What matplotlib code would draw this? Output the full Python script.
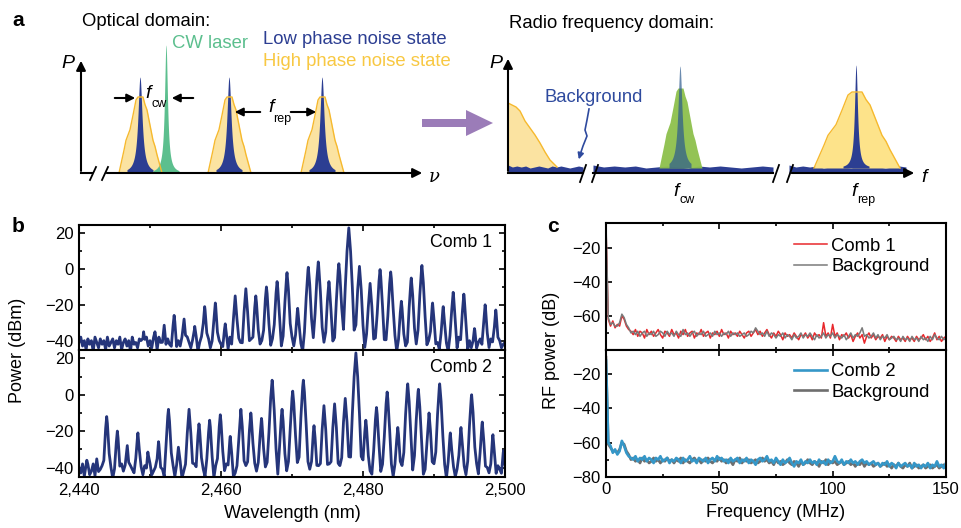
import numpy as np
import matplotlib
matplotlib.use('Agg')
import matplotlib.pyplot as plt
from matplotlib.ticker import FuncFormatter, FixedLocator

plt.rcParams['font.family'] = ['Liberation Sans', 'DejaVu Sans']

# ---------- panel b: comb lines (wavelength nm, peak power dBm) ----------
COMB1_NM = [2449.1, 2450.7, 2452.0, 2453.4, 2454.8, 2456.3, 2457.7, 2459.2, 2460.6,
            2462.0, 2463.5, 2464.9, 2466.4, 2467.9, 2469.3, 2470.8, 2472.3, 2473.7,
            2475.2, 2476.6, 2478.0, 2479.5, 2481.0, 2482.4, 2483.9, 2485.4, 2486.8,
            2488.3, 2489.8, 2491.3, 2492.7, 2494.2, 2495.7, 2497.2, 2498.7]
COMB1_DBM = [-36, -36, -32, -26, -28, -33, -21, -19, -31,
             -15, -11, -15, -10, -7, -2, -22, 1, 4,
             -7, 3, 23, 1.5, -8, -0.3, -1.6, -18, -5,
             2, -19, -21, -13, -14, -35, -20, -23]

COMB2_NM = [2441.1, 2442.5, 2443.9, 2445.4, 2446.8, 2448.3, 2449.7, 2451.2, 2452.6,
            2454.0, 2455.5, 2456.9, 2458.4, 2459.9, 2461.3, 2462.8, 2464.2, 2465.7,
            2467.2, 2468.6, 2470.1, 2471.6, 2473.1, 2474.5, 2476.0, 2477.5, 2479.0,
            2480.4, 2481.9, 2483.4, 2484.9, 2486.3, 2487.8, 2489.3, 2490.8, 2492.3,
            2493.8, 2495.3, 2496.8, 2498.3, 2499.8]
COMB2_DBM = [-39, -37, -12, -20, -28, -21, -32, -26, -8,
             -29, -8, -16, -14, -11, -23, -8, -10, -13,
             8, -8, 2, 8, -17, -6, -5, -2, 23,
             -14, -7, 1.5, -18, 6, 3, -10, 6, -21,
             -18, 0, -15, -22, -31]

# OSA noise floor, every 0.25 nm from 2440 to 2500
OSA_NM = np.arange(2440.0, 2500.01, 0.25)
COMB1_FLOOR = [
    -41, -38, -43, -40, -45, -39, -42, -40, -46, -38, -41, -44, -39, -42, -40, -45, -38, -43, -41, -39,
    -44, -40, -42, -38, -45, -41, -39, -43, -40, -46, -38, -42, -41, -44, -39, -40, -45, -42, -38, -43,
    -40, -44, -39, -42, -46, -38, -41, -43, -40, -45, -39, -42, -44, -38, -41, -46, -40, -43, -39, -42,
    -45, -38, -41, -44, -40, -43, -39, -46, -41, -38, -42, -45, -40, -39, -44, -41, -43, -38, -46, -40,
    -42, -44, -39, -41, -45, -38, -43, -40, -42, -46, -39, -41, -44, -40, -38, -45, -42, -39, -43, -41,
    -46, -39, -42, -40, -44, -38, -41, -45, -43, -39, -40, -46, -42, -38, -44, -41, -39, -43, -45, -40,
    -38, -43, -41, -45, -39, -42, -46, -40, -44, -38, -41, -43, -39, -45, -42, -40, -46, -38, -41, -44,
    -40, -45, -39, -42, -44, -41, -38, -46, -40, -43, -39, -42, -45, -41, -38, -44, -40, -43, -46, -39,
    -41, -44, -38, -42, -45, -40, -43, -39, -46, -41, -38, -44, -42, -40, -45, -39, -43, -41, -38, -46,
    -42, -39, -44, -40, -43, -45, -38, -41, -46, -40, -42, -39, -44, -41, -45, -38, -43, -40, -42, -46,
    -39, -43, -41, -45, -40, -38, -44, -42, -46, -39, -41, -43, -40, -45, -38, -42, -44, -41, -39, -46,
    -40, -44, -42, -38, -45, -41, -39, -43, -46, -40, -42, -44, -39, -41, -45, -38, -43, -40, -44, -42,
    -41]
COMB2_FLOOR = [
    -40, -43, -38, -45, -41, -39, -44, -42, -38, -46, -40, -43, -41, -39, -45, -42, -38, -44, -40, -46,
    -43, -39, -41, -45, -38, -42, -40, -44, -46, -39, -41, -43, -38, -45, -42, -40, -44, -39, -46, -41,
    -38, -44, -42, -40, -45, -39, -43, -41, -46, -38, -42, -44, -40, -39, -45, -41, -43, -38, -46, -42,
    -41, -45, -39, -43, -40, -38, -46, -42, -44, -39, -41, -45, -38, -43, -40, -42, -46, -39, -44, -41,
    -44, -40, -42, -38, -45, -41, -39, -46, -43, -40, -38, -44, -42, -45, -39, -41, -43, -40, -46, -38,
    -42, -39, -45, -41, -43, -40, -38, -44, -46, -42, -39, -41, -45, -40, -43, -38, -44, -42, -39, -46,
    -40, -44, -41, -38, -45, -43, -39, -42, -46, -40, -41, -44, -38, -45, -42, -39, -43, -41, -46, -40,
    -45, -38, -42, -44, -40, -41, -46, -39, -43, -38, -44, -42, -40, -45, -41, -39, -46, -43, -38, -42,
    -39, -43, -46, -40, -42, -44, -38, -41, -45, -40, -43, -39, -46, -42, -38, -44, -41, -45, -40, -43,
    -44, -41, -39, -45, -38, -42, -40, -46, -43, -39, -41, -44, -40, -38, -45, -42, -43, -39, -46, -41,
    -38, -42, -45, -40, -43, -41, -39, -46, -44, -38, -42, -40, -45, -41, -39, -43, -46, -40, -44, -42,
    -41, -46, -40, -43, -38, -44, -42, -39, -45, -41, -40, -43, -46, -38, -42, -44, -39, -41, -45, -40,
    -42]

# ---------- panel c: RF spectra, one value per MHz from 0 to 150 ----------
RF_MHZ = np.arange(0, 151)
RF_COMB1 = [
    -8, -62, -66, -63, -67, -65, -66, -60, -62, -66, -68,
    -69, -71, -68, -72, -69, -70, -73, -68, -71, -69, -72, -70, -68, -71, -73, -69, -70, -72, -68, -71,
    -70, -73, -69, -71, -68, -72, -70, -69, -73, -70, -71, -68, -72, -70, -69, -73, -70, -71, -69, -72,
    -68, -71, -70, -73, -69, -71, -70, -72, -69, -71, -73, -70, -69, -72, -70, -68, -71, -69, -72, -70,
    -68, -71, -73, -70, -72, -69, -71, -74, -70, -72, -71, -73, -70, -72, -74, -71, -72, -70, -73, -71,
    -74, -70, -72, -71, -73, -64, -72, -70, -73, -65, -72, -70, -74, -71, -72, -70, -73, -71, -75, -72,
    -70, -73, -71, -76, -72, -70, -73, -71, -74, -72, -73, -71, -75, -72, -74, -72, -73, -75, -72, -74,
    -73, -75, -72, -74, -73, -75, -72, -74, -73, -71, -74, -72, -75, -73, -70, -74, -72, -75, -73, -72]
RF_BG1 = [
    -6, -61, -65, -64, -66, -66, -64, -59, -61, -65, -67,
    -70, -69, -71, -69, -72, -70, -69, -72, -70, -71, -69, -72, -71, -69, -70, -72, -69, -71, -70, -72,
    -69, -71, -72, -68, -71, -70, -72, -70, -69, -72, -70, -71, -69, -72, -71, -70, -72, -69, -71, -70,
    -72, -70, -71, -69, -72, -70, -71, -70, -72, -71, -70, -72, -71, -69, -70, -67, -69, -71, -70, -72,
    -69, -72, -70, -71, -73, -71, -72, -70, -73, -71, -72, -74, -71, -73, -72, -70, -73, -71, -72, -70,
    -72, -74, -71, -73, -72, -70, -73, -71, -72, -70, -73, -71, -72, -73, -71, -74, -72, -70, -73, -71,
    -72, -70, -67, -72, -71, -73, -72, -70, -73, -71, -74, -72, -73, -71, -74, -73, -72, -74, -73, -75,
    -72, -74, -73, -75, -72, -74, -73, -75, -72, -74, -73, -75, -72, -74, -71, -73, -74, -72, -74, -73]
RF_COMB2 = [
    -12, -60, -62, -66, -64, -67, -65, -59, -62, -66, -68,
    -69, -70, -68, -71, -69, -70, -68, -71, -69, -70, -72, -69, -70, -68, -71, -70, -69, -72, -70, -71,
    -69, -70, -72, -69, -71, -70, -68, -71, -70, -72, -69, -70, -71, -69, -72, -70, -69, -71, -68, -70,
    -69, -71, -70, -72, -69, -71, -70, -69, -72, -70, -71, -69, -72, -70, -71, -73, -70, -69, -71, -70,
    -68, -71, -70, -72, -69, -71, -73, -70, -72, -71, -69, -72, -74, -71, -72, -70, -73, -71, -72, -70,
    -72, -71, -73, -70, -72, -71, -73, -70, -72, -71, -68, -71, -72, -70, -73, -71, -72, -70, -72, -71,
    -73, -71, -70, -72, -71, -73, -72, -71, -73, -72, -74, -72, -73, -71, -74, -72, -73, -75, -72, -74,
    -73, -72, -74, -73, -75, -72, -74, -73, -75, -73, -74, -72, -75, -73, -74, -71, -74, -73, -75, -72]
RF_BG2 = [
    -10, -61, -63, -65, -65, -66, -64, -60, -61, -65, -67,
    -70, -69, -71, -70, -72, -69, -71, -70, -72, -71, -69, -71, -70, -72, -70, -71, -69, -71, -70, -72,
    -70, -71, -69, -72, -70, -71, -72, -70, -69, -71, -70, -72, -70, -71, -69, -71, -72, -70, -71, -69,
    -71, -70, -72, -70, -71, -73, -70, -71, -69, -72, -70, -71, -70, -72, -71, -70, -72, -71, -69, -71,
    -70, -72, -71, -73, -70, -72, -71, -73, -72, -70, -72, -73, -71, -72, -74, -71, -73, -72, -70, -72,
    -73, -71, -72, -74, -71, -72, -70, -73, -71, -72, -71, -73, -72, -71, -73, -72, -71, -73, -72, -74,
    -72, -73, -71, -74, -72, -73, -72, -74, -73, -72, -74, -73, -72, -74, -73, -75, -73, -74, -72, -74,
    -75, -73, -74, -72, -75, -74, -73, -75, -74, -73, -75, -74, -73, -75, -74, -73, -75, -74, -73, -74]

# ---------- panel a: schematic (pixel-like units) ----------
OPT_COMB_POS = [140, 229, 322]
OPT_COMB_H = 96
OPT_NOISE_H = 76
OPT_CW_POS = 166
OPT_CW_H = 128
NOISE_DX = [-21, -18, -16, -14, -12, -10, -7, -4, -2, 3, 5, 7, 10, 13, 15, 17, 22]
NOISE_FRAC = [0, 0.18, 0.3, 0.43, 0.5, 0.57, 0.76, 0.96, 1.0, 1.0, 0.9, 0.83, 0.63, 0.43, 0.35, 0.24, 0]
RF_CW_POS = 680
RF_REP_POS = 856
RF_LOW_X = [508, 512, 516, 520, 525, 530, 535, 540, 545, 550, 557]
RF_LOW_H = [70, 68, 66, 62, 52, 45, 38, 30, 21, 13, 6]
RF_FLOOR_H = [8, 6, 7, 6, 7, 5, 6, 7, 6, 5, 7, 6, 7, 6, 5, 6, 7, 6]

NAVY = '#25357a'
BLUE = '#2c3e92'
YEL_FILL = '#fbe3a1'
YEL_EDGE = '#f6b92e'
GREEN = '#5cbf8e'
FS_A = 13.3     # schematic text
FS_TICK = 12
FS_LAB = 13


def osa_trace(floor, peak_nm, peak_dbm):
    # OSA floor plus the comb lines, summed in linear power
    nm = np.sort(np.concatenate([OSA_NM, peak_nm]))
    fl = np.array(floor)[np.clip(np.searchsorted(OSA_NM, nm), 0, len(OSA_NM) - 1)]
    lin = 10 ** (fl / 10)
    for x0, h in zip(peak_nm, peak_dbm):
        lin += 10 ** ((h - 85 * np.abs(nm - x0) ** 1.35) / 10)
    return nm, 10 * np.log10(lin)


fig = plt.figure(figsize=(9.61, 5.28), dpi=100)

# ---------------- panel a ----------------
ax_a = fig.add_axes([0, 0, 1, 1])
ax_a.set_xlim(0, 961)
ax_a.set_ylim(528, 0)
ax_a.axis('off')

base = 173
lor = np.linspace(-13, 13, 200)
for p in OPT_COMB_POS:
    xs = p + np.array(NOISE_DX)
    ys = base - OPT_NOISE_H * np.array(NOISE_FRAC)
    ax_a.fill_between(xs, base, ys, color=YEL_FILL, lw=0)
    ax_a.plot(xs, ys, color=YEL_EDGE, lw=1)
    ax_a.fill_between(p + lor, base, base - OPT_COMB_H / (1 + (lor / 2.5) ** 2), color=BLUE, lw=0)
ax_a.fill_between(OPT_CW_POS + lor, base, base - OPT_CW_H / (1 + (lor / 1.8) ** 2), color=GREEN, lw=0)

# optical axes
ax_a.plot([81, 92], [base, base], color='k', lw=1.5)
ax_a.annotate('', xy=(425, base), xytext=(104, base),
              arrowprops=dict(arrowstyle='-|>', color='k', lw=1.5, mutation_scale=14))
ax_a.annotate('', xy=(81, 58), xytext=(81, base + 0.7),
              arrowprops=dict(arrowstyle='-|>', color='k', lw=1.5, mutation_scale=14))
for bx in (90, 102):
    ax_a.plot([bx, bx + 6], [180, 167], color='k', lw=1.3)

arw = dict(arrowstyle='-|>', color='k', lw=1.5, mutation_scale=12)
ax_a.annotate('', xy=(138, 98), xytext=(112, 98), arrowprops=arw)
ax_a.annotate('', xy=(169, 98), xytext=(196, 98), arrowprops=arw)
ax_a.annotate('', xy=(232, 112), xytext=(263, 112), arrowprops=arw)
ax_a.annotate('', xy=(319, 112), xytext=(288, 112), arrowprops=arw)

ax_a.text(12, 21, 'a', fontsize=15, fontweight='bold', va='center')
ax_a.text(82, 22, 'Optical domain:', fontsize=FS_A, va='center')
ax_a.text(172, 44, 'CW laser', fontsize=FS_A, va='center', color=GREEN)
ax_a.text(263, 39, 'Low phase noise state', fontsize=FS_A, va='center', color=BLUE)
ax_a.text(263, 61, 'High phase noise state', fontsize=FS_A, va='center', color='#f8c842')
ax_a.text(61, 64, 'P', fontsize=14, style='italic', va='center')
ax_a.text(429, 177, 'ν', fontsize=13, style='italic', va='center', family='DejaVu Serif')
ax_a.text(145, 93, 'f', fontsize=14, style='italic', va='center')
ax_a.text(151, 104, 'cw', fontsize=9, va='center')
ax_a.text(268, 107, 'f', fontsize=14, style='italic', va='center')
ax_a.text(273, 119, 'rep', fontsize=9, va='center')

# purple arrow between domains
ax_a.fill([422, 466, 466, 493, 466, 466, 422], [119, 119, 110, 123, 136, 127, 127],
          color='#9b7cb8', lw=0)

# RF domain
rf_base = 173
ax_a.fill_between(RF_LOW_X, rf_base, rf_base - np.array(RF_LOW_H), color=YEL_FILL, lw=0)
ax_a.plot(RF_LOW_X, rf_base - np.array(RF_LOW_H), color=YEL_EDGE, lw=1)
for x0, x1 in [(508, 583), (593, 773), (789, 906)]:
    xs = np.linspace(x0, x1, len(RF_FLOOR_H))
    ax_a.fill_between(xs, rf_base, rf_base - np.array(RF_FLOOR_H), color=BLUE, lw=0)

xs = RF_CW_POS + np.array(NOISE_DX)
ax_a.fill_between(xs, rf_base - 5, rf_base - 5 - 80 * np.array(NOISE_FRAC), color='#8dc04c', lw=0, alpha=0.95)
lor2 = np.linspace(-11, 11, 200)
ax_a.fill_between(RF_CW_POS + lor2, rf_base - 5, rf_base - 5 - 102 / (1 + (lor2 / 2.4) ** 2),
                  color='#2c5a8e', lw=0, alpha=0.7)

xs = RF_REP_POS + 2 * np.array(NOISE_DX)
ax_a.fill_between(xs, rf_base - 5, rf_base - 5 - 76 * np.array(NOISE_FRAC), color='#fde38a', lw=0)
ax_a.plot(xs, rf_base - 5 - 76 * np.array(NOISE_FRAC), color=YEL_EDGE, lw=1)
ax_a.fill_between(RF_REP_POS + lor, rf_base - 5, rf_base - 5 - 103 / (1 + (lor / 1.8) ** 2), color=BLUE, lw=0)

ax_a.plot([508, 583], [rf_base, rf_base], color='k', lw=1.5)
ax_a.plot([593, 773], [rf_base, rf_base], color='k', lw=1.5)
ax_a.annotate('', xy=(917, rf_base), xytext=(789, rf_base),
              arrowprops=dict(arrowstyle='-|>', color='k', lw=1.5, mutation_scale=14))
ax_a.annotate('', xy=(508, 56), xytext=(508, rf_base + 0.7),
              arrowprops=dict(arrowstyle='-|>', color='k', lw=1.5, mutation_scale=14))
for bx in (580, 592, 773, 787):
    ax_a.plot([bx, bx + 6], [182, 165], color='k', lw=1.3)

ax_a.text(509, 23, 'Radio frequency domain:', fontsize=FS_A, va='center')
ax_a.text(489, 63, 'P', fontsize=14, style='italic', va='center')
ax_a.text(921, 178, 'f', fontsize=14, style='italic', va='center')
ax_a.text(673, 191, 'f', fontsize=14, style='italic', va='center')
ax_a.text(679, 200, 'cw', fontsize=9, va='center')
ax_a.text(851, 191, 'f', fontsize=14, style='italic', va='center')
ax_a.text(857, 200, 'rep', fontsize=9, va='center')
ax_a.text(545, 97, 'Background', fontsize=FS_A, va='center', color='#2e4a9e')
ax_a.plot([589, 587, 585, 587, 583, 581], [109, 120, 130, 136, 146, 152], color='#2e4a9e', lw=1.2)
ax_a.annotate('', xy=(578, 162), xytext=(581, 152),
              arrowprops=dict(arrowstyle='-|>', color='#2e4a9e', lw=1.2, mutation_scale=9))


def style_axes(ax):
    for s in ax.spines.values():
        s.set_linewidth(1.5)
    ax.tick_params(which='both', direction='in', labelsize=FS_TICK, width=1.2, pad=4)
    ax.tick_params(which='major', length=4)
    ax.tick_params(which='minor', length=2.5)


# ---------------- panel b ----------------
W, H = 961, 528
ax_b1 = fig.add_axes([79 / W, 1 - 350 / H, 426 / W, 125 / H])
ax_b2 = fig.add_axes([79 / W, 1 - 477 / H, 426 / W, 127 / H])
for ax, fl, pn, pd, lbl in [(ax_b1, COMB1_FLOOR, COMB1_NM, COMB1_DBM, 'Comb 1'),
                            (ax_b2, COMB2_FLOOR, COMB2_NM, COMB2_DBM, 'Comb 2')]:
    nm, db = osa_trace(fl, np.array(pn), np.array(pd))
    ax.plot(nm, db, color=NAVY, lw=2.0)
    ax.set_xlim(2440, 2500)
    ax.set_ylim(-45.2, 24.6)
    ax.set_yticks([20, 0, -20, -40])
    ax.yaxis.set_minor_locator(FixedLocator([10, -10, -30]))
    ax.xaxis.set_major_locator(FixedLocator([2440, 2460, 2480, 2500]))
    ax.xaxis.set_minor_locator(FixedLocator([2450, 2470, 2490]))
    ax.tick_params(which='both', top=True, right=True)
    ax.text(0.969, 0.86, lbl, transform=ax.transAxes, ha='right', va='center', fontsize=12.8)
    style_axes(ax)
ax_b1.set_xticklabels([])
ax_b2.xaxis.set_major_formatter(FuncFormatter(lambda v, p: f'{v:,.0f}'))
ax_b2.set_xlabel('Wavelength (nm)', fontsize=FS_LAB, labelpad=5)
fig.text(18 / W, 1 - 350 / H, 'Power (dBm)', rotation=90, ha='center', va='center', fontsize=FS_LAB)
fig.text(12 / W, 1 - 226 / H, 'b', fontsize=15, fontweight='bold', va='center')

# ---------------- panel c ----------------
ax_c1 = fig.add_axes([606 / W, 1 - 350 / H, 340 / W, 126.7 / H])
ax_c2 = fig.add_axes([606 / W, 1 - 476.7 / H, 340 / W, 126.7 / H])
ax_c1.plot(RF_MHZ, RF_COMB1, color='#e8282c', lw=1.1, label='Comb 1')
ax_c1.plot(RF_MHZ, RF_BG1, color='#7a7a7a', lw=1.1, label='Background')
ax_c2.plot(RF_MHZ, RF_BG2, color='#6e6e6e', lw=1.9, label='Background')
ax_c2.plot(RF_MHZ, RF_COMB2, color='#3597c8', lw=1.9, label='Comb 2')
for ax in (ax_c1, ax_c2):
    ax.set_xlim(0, 150)
    ax.set_ylim(-80, -5.8)
    ax.xaxis.set_major_locator(FixedLocator([0, 50, 100, 150]))
    ax.xaxis.set_minor_locator(FixedLocator([25, 75, 125]))
    ax.yaxis.set_minor_locator(FixedLocator([-70]))
    ax.tick_params(which='both', top=True, right=False)
    style_axes(ax)
ax_c1.set_yticks([-20, -40, -60])
ax_c2.set_yticks([-20, -40, -60, -80])
ax_c1.set_xticklabels([])
ax_c2.set_xlabel('Frequency (MHz)', fontsize=FS_LAB, labelpad=5)
h, l = ax_c1.get_legend_handles_labels()
ax_c1.legend(h, l, loc='upper right', bbox_to_anchor=(0.985, 0.975), frameon=False, fontsize=FS_A,
             handlelength=1.8, handletextpad=0.25, labelspacing=0.2, borderaxespad=0.2)
h, l = ax_c2.get_legend_handles_labels()
ax_c2.legend(h[::-1], l[::-1], loc='upper right', bbox_to_anchor=(0.985, 0.985), frameon=False, fontsize=FS_A,
             handlelength=1.8, handletextpad=0.25, labelspacing=0.2, borderaxespad=0.2)
fig.text(552 / W, 1 - 350 / H, 'RF power (dB)', rotation=90, ha='center', va='center', fontsize=FS_LAB)
fig.text(547 / W, 1 - 226 / H, 'c', fontsize=15, fontweight='bold', va='center')

fig.savefig('out.png', dpi=100)
